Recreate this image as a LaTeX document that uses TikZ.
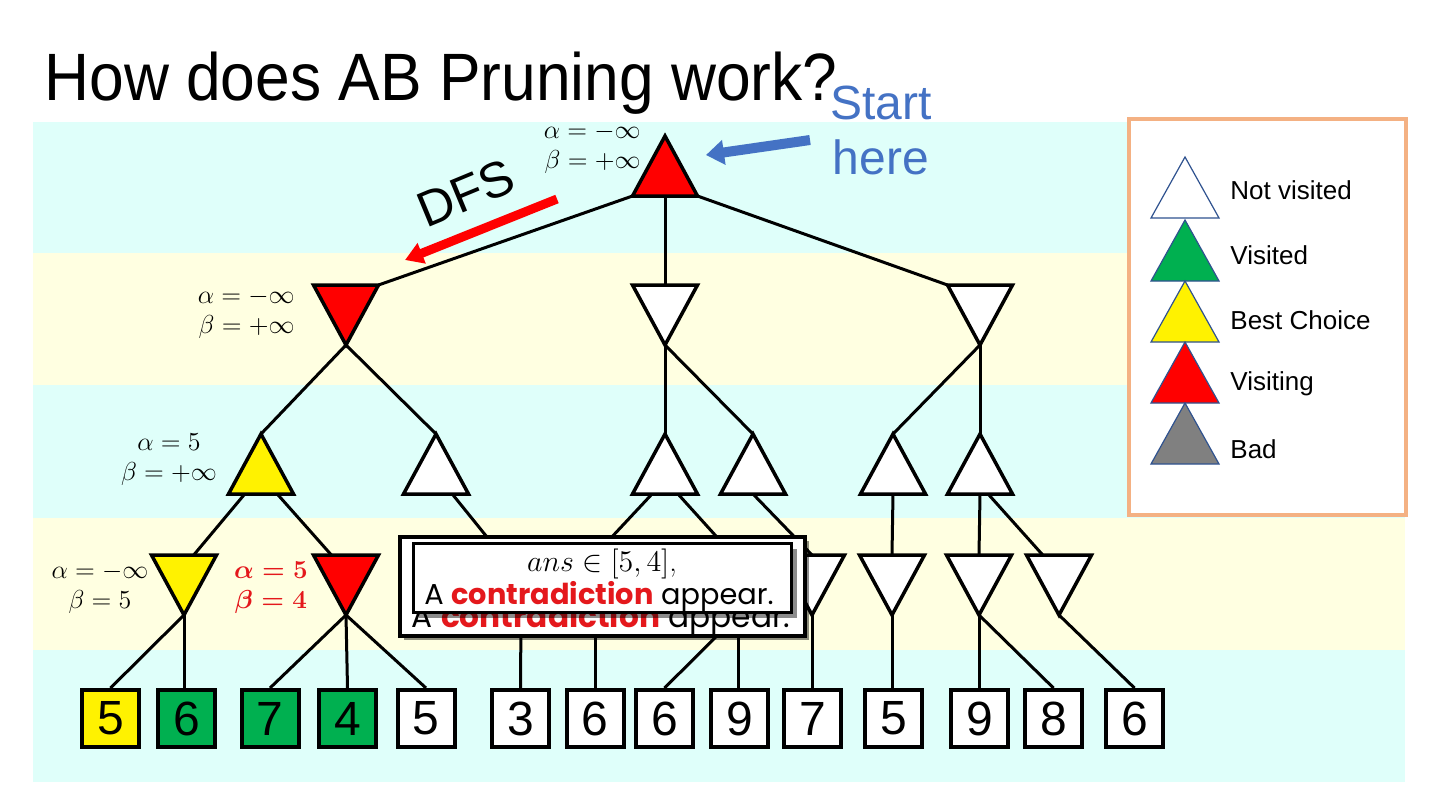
\RequirePackage{fix-cm}
\documentclass[tikz,border=0pt]{standalone}
\usepackage{amsmath}
\usepackage{fontspec}
\newfontfamily\arial{Liberation Sans}
\newfontfamily\popp{Poppins}
\usetikzlibrary{shapes.geometric,arrows.meta,shadows,calc}
\definecolor{bandc}{RGB}{223,255,250}
\definecolor{bandy}{RGB}{255,255,225}
\definecolor{offgreen}{RGB}{0,176,80}
\definecolor{legborder}{RGB}{244,177,131}
\definecolor{startblue}{RGB}{68,114,196}
\definecolor{legline}{RGB}{47,82,143}
\definecolor{contrared}{RGB}{228,24,28}
\definecolor{badgray}{RGB}{128,128,128}
\pgfdeclarelayer{bg}
\pgfdeclarelayer{edges}
\pgfsetlayers{bg,edges,main}
\tikzset{
  tribase/.style={isosceles triangle, isosceles triangle stretches, inner sep=0pt, outer sep=0pt,
    minimum width=32.5pt, minimum height=30pt, draw=black, line width=1.75pt},
  uptri/.style={tribase, shape border rotate=90, anchor=apex},
  downtri/.style={tribase, shape border rotate=270, anchor=apex},
  legtri/.style={isosceles triangle, isosceles triangle stretches, inner sep=0pt, outer sep=0pt,
    minimum width=34pt, minimum height=30.5pt, draw=legline, line width=0.6pt,
    shape border rotate=90, anchor=apex},
  leaf/.style={draw=black, line width=2pt, minimum width=28.5pt, minimum height=28.5pt,
    inner sep=0pt, font=\arial\fontsize{24}{24}\selectfont},
  edge/.style={line width=1.5pt, draw=black},
  ablabel/.style={font=\fontsize{13}{15}\selectfont, inner sep=0pt},
  legtext/.style={anchor=west, font=\arial\fontsize{13}{13}\selectfont, inner sep=0pt},
}
\begin{document}
\begin{tikzpicture}[x=0.5pt,y=-0.5pt]
\useasboundingbox (0,0) rectangle (1440,810);
\begin{pgfonlayer}{bg}
\fill[white] (0,0) rectangle (1440,810);
\fill[bandc] (33,122) rectangle (1405,253);
\fill[bandy] (33,253) rectangle (1405,385);
\fill[bandc] (33,385) rectangle (1405,518);
\fill[bandy] (33,518) rectangle (1405,650);
\fill[bandc] (33,650) rectangle (1405,782);
\draw[legborder, line width=2.25pt, fill=white] (1129,119) rectangle (1406,515);
\end{pgfonlayer}

% title
\node[anchor=base west, inner sep=0pt, font=\arial\fontsize{33.5}{36}\selectfont] (title) at (44,100)
  {\scalebox{0.93}[1]{How does AB Pruning work?}};

% tree nodes
\node[uptri, fill=red] (R) at (665,136) {};
\node[downtri, fill=red] (A) at (346,345) {};
\node[downtri, fill=white] (B) at (665,345) {};
\node[downtri, fill=white] (C) at (980,345) {};
\node[uptri, fill=yellow] (A1) at (261,434) {};
\node[uptri, fill=white] (A2) at (436,434) {};
\node[uptri, fill=white] (B1) at (665,434) {};
\node[uptri, fill=white] (B2) at (753,434) {};
\node[uptri, fill=white] (C1) at (893,434) {};
\node[uptri, fill=white] (C2) at (980,434) {};
\node[downtri, fill=yellow] (A11) at (184,615) {};
\node[downtri, fill=red] (A12) at (346,615) {};
\node[downtri, fill=white] (A21) at (521,615) {};
\node[downtri, fill=white] (B11) at (595,615) {};
\node[downtri, fill=white] (B12) at (738,615) {};
\node[downtri, fill=white] (B21) at (812,615) {};
\node[downtri, fill=white] (C11) at (892,615) {};
\node[downtri, fill=white] (C21) at (979,615) {};
\node[downtri, fill=white] (C22) at (1059,615) {};

% leaves
\node[leaf, fill=yellow] (l1) at (110.5,718.5) {5};
\node[leaf, fill=offgreen] (l2) at (186.5,718.5) {6};
\node[leaf, fill=offgreen] (l3) at (270,718.5) {7};
\node[leaf, fill=offgreen] (l4) at (347.5,718.5) {4};
\node[leaf, fill=white] (l5) at (426,718.5) {5};
\node[leaf, fill=white] (l6) at (520.5,718.5) {3};
\node[leaf, fill=white] (l7) at (595,718.5) {6};
\node[leaf, fill=white] (l8) at (664.5,718.5) {6};
\node[leaf, fill=white] (l9) at (739.5,718.5) {9};
\node[leaf, fill=white] (l10) at (812.5,718.5) {7};
\node[leaf, fill=white] (l11) at (893.5,718.5) {5};
\node[leaf, fill=white] (l12) at (979.5,718.5) {9};
\node[leaf, fill=white] (l13) at (1053.5,718.5) {8};
\node[leaf, fill=white] (l14) at (1134.5,718.5) {6};

% edges
\begin{pgfonlayer}{edges}
\draw[edge] (R.left corner) -- (A.left corner);
\draw[edge] (R.lower side) -- (B.lower side);
\draw[edge] (R.right corner) -- (C.right corner);
\draw[edge] (A.apex) -- (A1.apex);
\draw[edge] (A.apex) -- (A2.apex);
\draw[edge] (B.apex) -- (B1.apex);
\draw[edge] (B.apex) -- (B2.apex);
\draw[edge] (C.apex) -- (C1.apex);
\draw[edge] (C.apex) -- (C2.apex);
\draw[edge] ($(A1.lower side)!0.5!(A1.left corner)$) -- ($(A11.lower side)!0.3!(A11.left corner)$);
\draw[edge] ($(A1.lower side)!0.5!(A1.right corner)$) -- ($(A12.lower side)!0.45!(A12.right corner)$);
\draw[edge] ($(A2.lower side)!0.5!(A2.right corner)$) -- ($(A21.lower side)!0.6!(A21.right corner)$);
\draw[edge] ($(B1.lower side)!0.4!(B1.left corner)$) -- (B11.lower side);
\draw[edge] ($(B1.lower side)!0.4!(B1.right corner)$) -- ($(B12.lower side)!0.15!(B12.right corner)$);
\draw[edge] (B2.lower side) -- (B21.lower side);
\draw[edge] (C1.lower side) -- (C11.lower side);
\draw[edge] (C2.lower side) -- (C21.lower side);
\draw[edge] ($(C2.lower side)!0.25!(C2.right corner)$) -- ($(C22.lower side)!0.5!(C22.right corner)$);
\draw[edge] (A11.apex) -- (l1.north);
\draw[edge] (A11.apex) -- (A11.apex |- l2.north);
\draw[edge] (A12.apex) -- (l3.north);
\draw[edge] (A12.apex) -- (l4.north);
\draw[edge] (A12.apex) -- (l5.north);
\draw[edge] (A21.apex) -- (l6.north);
\draw[edge] (B11.apex) -- (l7.north);
\draw[edge] (B12.apex) -- (l8.north);
\draw[edge] (B12.apex) -- (B12.apex |- l9.north);
\draw[edge] (B21.apex) -- (B21.apex |- l10.north);
\draw[edge] (C11.apex) -- (C11.apex |- l11.north);
\draw[edge] (C21.apex) -- (C21.apex |- l12.north);
\draw[edge] (C21.apex) -- (l13.north);
\draw[edge] (C22.apex) -- (l14.north);
\end{pgfonlayer}

% alpha-beta labels
\node[ablabel, anchor=east, align=right] (labR) at (641,148) {$\alpha=-\infty$\\$\beta=+\infty$};
\node[ablabel, anchor=east, align=right] (labA) at (295,313) {$\alpha=-\infty$\\$\beta=+\infty$};
\node[ablabel, align=center] (labA1) at (169,460) {$\alpha=5$\\$\beta=+\infty$};
\node[ablabel, align=center] (labA11) at (100,588) {$\alpha=-\infty$\\$\beta=5$};
\node[ablabel, align=center, text=contrared] (labA12) at (271,588) {$\boldsymbol{\alpha=5}$\\$\boldsymbol{\beta=4}$};

% legend
\node[legtri, fill=white] (k1) at (1185,157) {};
\node[legtri, fill=offgreen] (k2) at (1185,220) {};
\node[legtri, fill=yellow] (k3) at (1185,281) {};
\node[legtri, fill=red] (k4) at (1185,342) {};
\node[legtri, fill=badgray] (k5) at (1185,403) {};
\node[legtext] (t1) at (1230,190) {Not visited};
\node[legtext] (t2) at (1230,255) {Visited};
\node[legtext] (t3) at (1230,320) {Best Choice};
\node[legtext] (t4) at (1230,384) {Visiting};
\node[legtext] (t5) at (1230,449) {Bad};

% start here
\node[anchor=north, align=center, inner sep=0pt, text=startblue, font=\arial\fontsize{24}{27.5}\selectfont] (start) at (881,86) {Start\\here};
\coordinate (bluetail) at (810,140);
\coordinate (bluetip) at (706,155);
\draw[startblue, line width=5pt, -{Triangle[length=9pt,width=12pt]}] (bluetail) -- (bluetip);

% DFS
\node[rotate=22.5, inner sep=0pt, font=\arial\fontsize{25}{25}\selectfont] (dfs) at (466,193) {DFS};
\coordinate (dfstail) at (557,199);
\coordinate (dfstip) at (405,260);
\draw[red, line width=4.5pt, -{Triangle[length=9pt,width=10.5pt]}] (dfstail) -- (dfstip);

% callout
\node[draw=black, line width=2pt, fill=white, minimum width=202.5pt, minimum height=49.5pt, inner sep=0pt,
  drop shadow={shadow xshift=2pt, shadow yshift=-2pt, fill=black, opacity=0.45}] (outer) at (602.5,586.5) {};
\node[anchor=base, inner sep=0pt, font=\popp\fontsize{15.6}{16}\selectfont] (dup) at (601,627)
  {A \textcolor{contrared}{\textbf{contradiction}} appear.};
\node[draw=black, line width=1.25pt, fill=white, minimum width=189pt, minimum height=34.5pt, inner sep=0pt,
  drop shadow={shadow xshift=2.5pt, shadow yshift=-2.5pt, fill=black, opacity=0.45}] (inner) at (602.5,578) {};
\node[anchor=base, inner sep=0pt, font=\fontsize{15}{15}\selectfont] (ans) at (602,571) {$ans\in[5,4]$,};
\node[anchor=base, inner sep=0pt, font=\popp\fontsize{14.4}{14}\selectfont] (msg) at (599,604)
  {A \textcolor{contrared}{\textbf{contradiction}} appear.};
\end{tikzpicture}
\end{document}
